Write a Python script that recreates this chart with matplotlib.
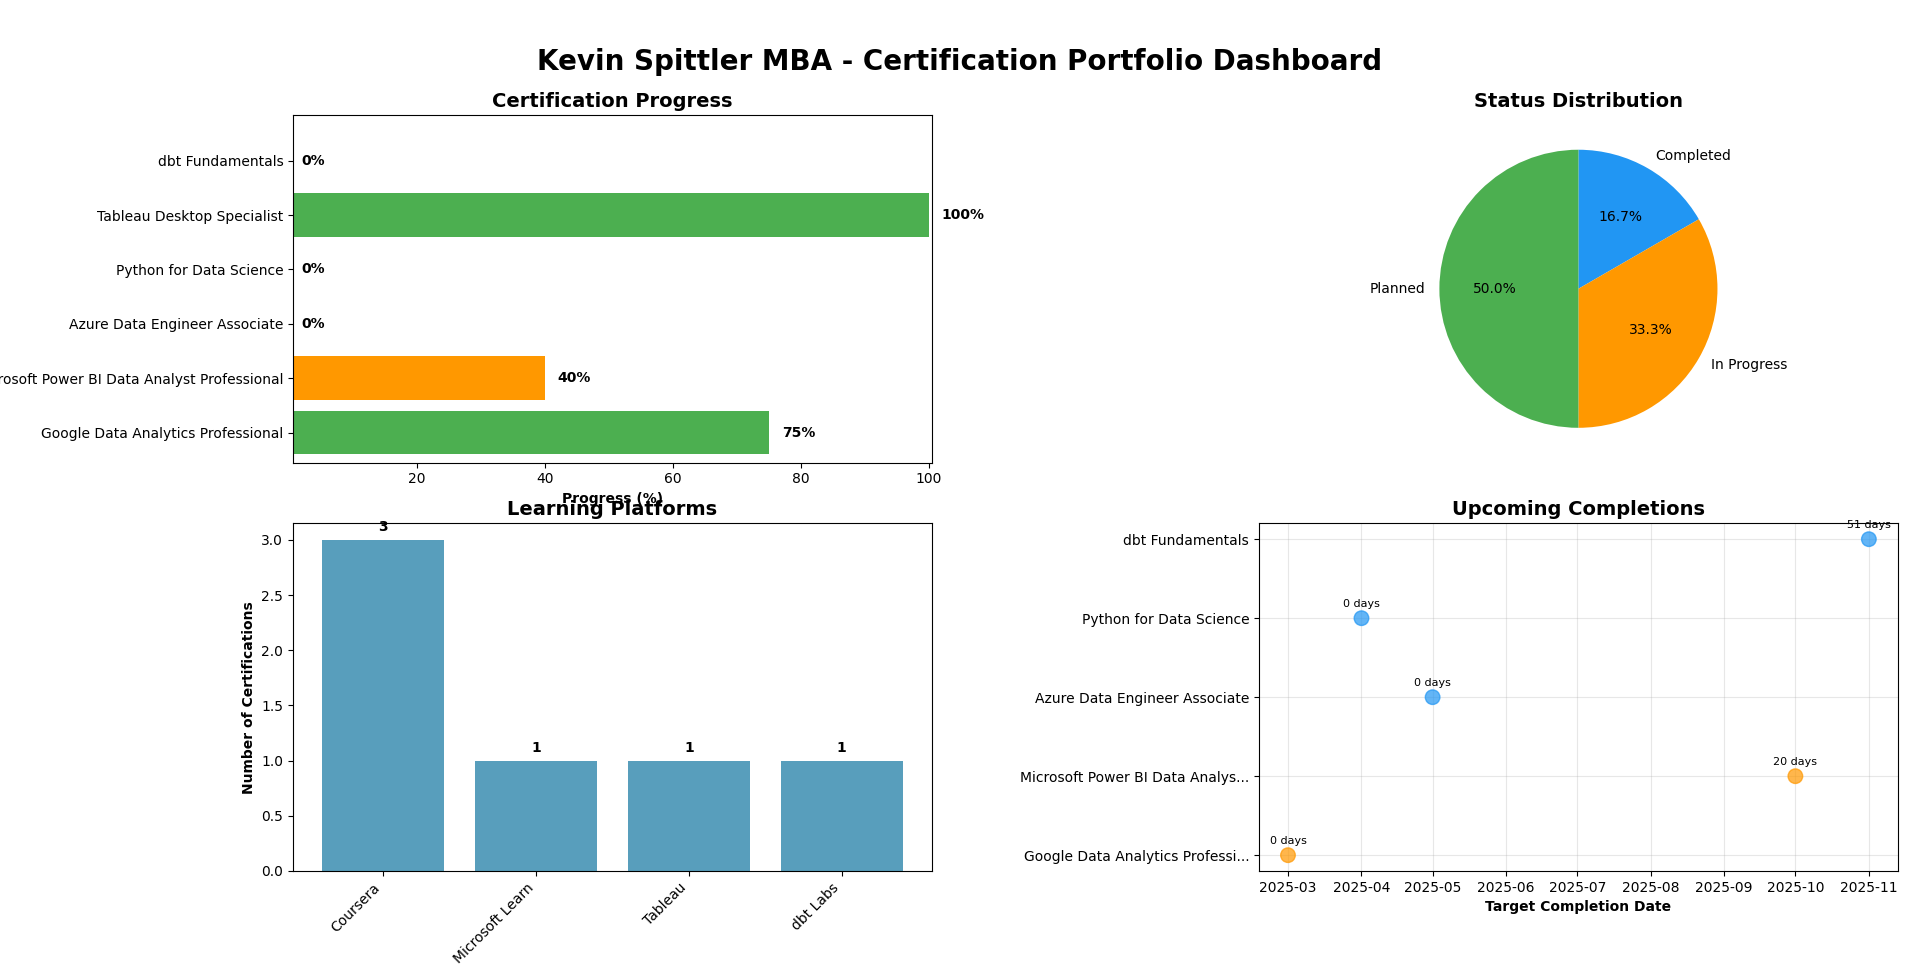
import matplotlib
matplotlib.use("Agg")
import matplotlib.pyplot as plt
import matplotlib.dates as mdates
import pandas as pd

# ---- data ----
cert_names = ["Google Data Analytics Professional",
              "Microsoft Power BI Data Analyst Professional",
              "Azure Data Engineer Associate",
              "Python for Data Science",
              "Tableau Desktop Specialist",
              "dbt Fundamentals"]
cert_progress = [75, 40, 0, 0, 100, 0]
cert_colors = ["#4CAF50", "#FF9800", "#2196F3", "#2196F3", "#4CAF50", "#2196F3"]

status_labels = ["Completed", "In Progress", "Planned"]
status_counts = [1, 2, 3]
status_colors = ["#2196F3", "#FF9800", "#4CAF50"]

platforms = ["Coursera", "Microsoft Learn", "Tableau", "dbt Labs"]
platform_counts = [3, 1, 1, 1]

upcoming_names = ["Google Data Analytics Professional",
                  "Microsoft Power BI Data Analyst Professional",
                  "Azure Data Engineer Associate",
                  "Python for Data Science",
                  "dbt Fundamentals"]
upcoming_dates = ["2025-03-01", "2025-10-01", "2025-05-01", "2025-04-01", "2025-11-01"]
upcoming_days = [0, 20, 0, 0, 51]
upcoming_colors = ["#FF9800", "#FF9800", "#2196F3", "#2196F3", "#2196F3"]

# ---- figure ----
fig, axes = plt.subplots(2, 2, figsize=(19.2, 9.67), dpi=100)
fig.subplots_adjust(left=0.1526, right=0.9885, top=0.8811, bottom=0.0993,
                    wspace=0.5117, hspace=0.175)
fig.suptitle("Kevin Spittler MBA - Certification Portfolio Dashboard",
             fontsize=20, fontweight="bold", y=0.936, va="center")

# Certification progress
ax1 = axes[0, 0]
ypos = list(range(len(cert_names)))
ax1.barh(ypos, cert_progress, color=cert_colors, height=0.8)
ax1.set_yticks(ypos)
ax1.set_yticklabels(cert_names)
for y, v in zip(ypos, cert_progress):
    ax1.text(v + 2, y, f"{v}%", va="center", ha="left", fontweight="bold")
ax1.set_xlim(0.625, 100.47)
ax1.set_ylim(-0.55, 5.84)
ax1.set_xticks([20, 40, 60, 80, 100])
ax1.set_xlabel("Progress (%)", fontweight="bold")
ax1.set_title("Certification Progress", fontsize=14, fontweight="bold")

# Status pie
ax2 = axes[0, 1]
ax2.pie(status_counts, labels=status_labels, colors=status_colors,
        autopct="%1.1f%%", startangle=90, counterclock=False)
ax2.set_title("Status Distribution", fontsize=14, fontweight="bold")

# Learning platforms
ax3 = axes[1, 0]
xpos = list(range(len(platforms)))
ax3.bar(xpos, platform_counts, color="#2E86AB", alpha=0.8, width=0.8)
ax3.set_xticks(xpos)
ax3.set_xticklabels(platforms, rotation=45, ha="right")
for x, v in zip(xpos, platform_counts):
    ax3.text(x, v + 0.05, str(v), ha="center", va="bottom", fontweight="bold")
ax3.set_ylabel("Number of Certifications", fontweight="bold")
ax3.set_title("Learning Platforms", fontsize=14, fontweight="bold")

# Upcoming completions
ax4 = axes[1, 1]
dates = pd.to_datetime(upcoming_dates)
ys = list(range(len(upcoming_names)))
ax4.scatter(dates, ys, s=110, c=upcoming_colors, alpha=0.7, zorder=3)
for d, y, days in zip(dates, ys, upcoming_days):
    ax4.annotate(f"{days} days", (d, y), xytext=(0, 8), textcoords="offset points",
                 ha="center", fontsize=8)
short = [n if len(n) <= 30 else n[:30] + "..." for n in upcoming_names]
ax4.set_yticks(ys)
ax4.set_yticklabels(short)
ax4.xaxis.set_major_locator(mdates.MonthLocator())
ax4.xaxis.set_major_formatter(mdates.DateFormatter("%Y-%m"))
ax4.grid(True, alpha=0.3)
ax4.set_xlabel("Target Completion Date", fontweight="bold")
ax4.set_title("Upcoming Completions", fontsize=14, fontweight="bold")

fig.savefig("out.png", dpi=100)
